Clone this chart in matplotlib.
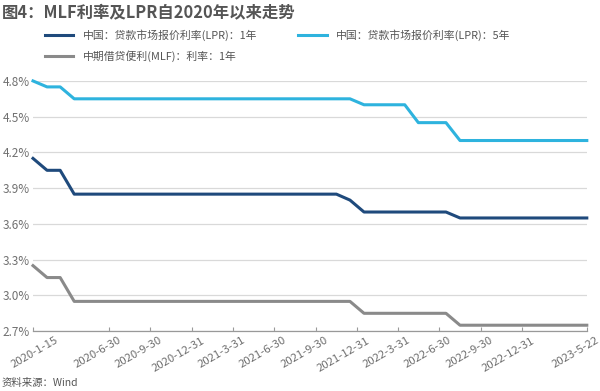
import pandas as pd
import matplotlib.pyplot as plt
import matplotlib.transforms as mtransforms

plt.rcParams['font.family'] = ['Noto Sans CJK SC', 'DejaVu Sans']

# monthly observation dates (LPR / MLF fixings)
dates = pd.to_datetime(
    [f"{y}-{m:02d}-15" for y in (2020, 2021, 2022) for m in range(1, 13)]
    + ["2023-01-15", "2023-02-15", "2023-03-15", "2023-04-15", "2023-05-22"]
)

lpr_1y = ([4.15, 4.05, 4.05] + [3.85] * 20 + [3.80] + [3.70] * 7 + [3.65] * 10)
lpr_5y = ([4.80, 4.75, 4.75] + [4.65] * 21 + [4.60] * 4 + [4.45] * 3 + [4.30] * 10)
mlf_1y = ([3.25, 3.15, 3.15] + [2.95] * 21 + [2.85] * 7 + [2.75] * 10)

tick_dates = pd.to_datetime([
    "2020-01-15", "2020-06-30", "2020-09-30", "2020-12-31", "2021-03-31",
    "2021-06-30", "2021-09-30", "2021-12-31", "2022-03-31", "2022-06-30",
    "2022-09-30", "2022-12-31", "2023-05-22"])
tick_labels = [f"{d.year}-{d.month}-{d.day}" for d in tick_dates]

yticks = [2.7, 3.0, 3.3, 3.6, 3.9, 4.2, 4.5, 4.8]

fig = plt.figure(figsize=(6, 3.91), dpi=100)
ax = fig.add_axes([0.055, 0.153, 0.923, 0.64])

l1, = ax.plot(dates, lpr_1y, color='#1f4a7c', lw=2.2, label='中国：贷款市场报价利率(LPR)：1年')
l2, = ax.plot(dates, lpr_5y, color='#2eb3de', lw=2.2, label='中国：贷款市场报价利率(LPR)：5年')
l3, = ax.plot(dates, mlf_1y, color='#8a8a8a', lw=2.2, label='中期借贷便利(MLF)：利率：1年')

ax.set_xlim(tick_dates[0], tick_dates[-1])
ax.set_ylim(2.7, 4.8)
ax.set_yticks(yticks)
ax.set_yticklabels([f"{v:.1f}%" for v in yticks])
ax.set_xticks(tick_dates)

ax.grid(axis='y', color='#d9d9d9', lw=0.9)
ax.set_axisbelow(True)
for s in ['top', 'right', 'left']:
    ax.spines[s].set_visible(False)
ax.spines['bottom'].set_color('#999999')
ax.spines['bottom'].set_linewidth(0.9)
ax.tick_params(axis='x', direction='in', length=3, color='#999999', labelsize=8.2,
               labelcolor='#707070', pad=3)
ax.tick_params(axis='y', length=0, labelsize=8.5, labelcolor='#707070', pad=2)

# rotated date labels, nudged so they end just right of their tick
ax.set_xticklabels(tick_labels, rotation=30, ha='right', rotation_mode='anchor')
for i, lab in enumerate(ax.get_xticklabels()):
    dx = 16 if i == 0 else 6.5
    shift = mtransforms.ScaledTranslation(dx / 72, 0, fig.dpi_scale_trans)
    lab.set_transform(lab.get_transform() + shift)

for ln in (l1, l2, l3):
    ln.set_clip_on(False)

fig.text(0.003, 0.968, '图4：MLF利率及LPR自2020年以来走势', fontsize=11.8,
         fontweight='bold', color='#555555', va='center', ha='left')

fig.legend([l1, l3, l2], [l1.get_label(), l3.get_label(), l2.get_label()],
           ncol=2, loc='upper left', bbox_to_anchor=(0.062, 0.945), frameon=False,
           fontsize=7.8, handlelength=2.6, handletextpad=0.9, columnspacing=3.8,
           labelspacing=0.85, labelcolor='#555555', borderpad=0.2)

fig.text(0.003, 0.02, '资料来源：Wind', fontsize=7.5, style='italic', color='#555555',
         va='center', ha='left')

plt.savefig("out.png", dpi=100)
